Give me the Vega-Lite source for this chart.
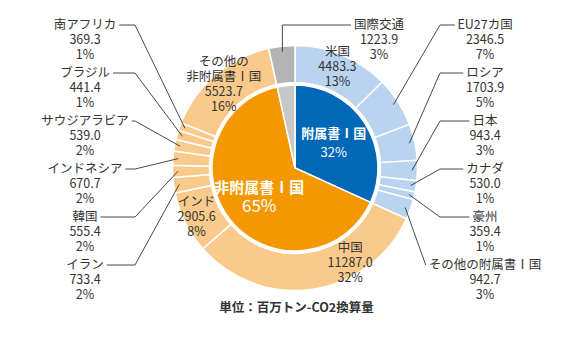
{
  "$schema": "https://vega.github.io/schema/vega-lite/v6.json",
  "width": 573,
  "height": 290,
  "autosize": "pad",
  "padding": 0,
  "background": "white",
  "config": {"view": {"stroke": null}, "font": "Noto Sans CJK JP"},
  "title": {"text": "単位：百万トン-CO2換算量", "orient": "bottom", "fontSize": 12.5, "fontWeight": "bold", "font": "Noto Sans CJK JP", "color": "#333333", "offset": 0, "dx": 10},
  "datasets": {
    "em": [
      {"name": "米国", "group": "附属書Ⅰ国", "value": 4483.3, "order": 1},
      {"name": "EU27カ国", "group": "附属書Ⅰ国", "value": 2346.5, "order": 2},
      {"name": "ロシア", "group": "附属書Ⅰ国", "value": 1703.9, "order": 3},
      {"name": "日本", "group": "附属書Ⅰ国", "value": 943.4, "order": 4},
      {"name": "カナダ", "group": "附属書Ⅰ国", "value": 530.0, "order": 5},
      {"name": "豪州", "group": "附属書Ⅰ国", "value": 359.4, "order": 6},
      {"name": "その他の附属書Ⅰ国", "group": "附属書Ⅰ国", "value": 942.7, "order": 7},
      {"name": "中国", "group": "非附属書Ⅰ国", "value": 11287.0, "order": 8},
      {"name": "インド", "group": "非附属書Ⅰ国", "value": 2905.6, "order": 9},
      {"name": "イラン", "group": "非附属書Ⅰ国", "value": 733.4, "order": 10},
      {"name": "韓国", "group": "非附属書Ⅰ国", "value": 555.4, "order": 11},
      {"name": "インドネシア", "group": "非附属書Ⅰ国", "value": 670.7, "order": 12},
      {"name": "サウジアラビア", "group": "非附属書Ⅰ国", "value": 539.0, "order": 13},
      {"name": "ブラジル", "group": "非附属書Ⅰ国", "value": 441.4, "order": 14},
      {"name": "南アフリカ", "group": "非附属書Ⅰ国", "value": 369.3, "order": 15},
      {"name": "その他の\n非附属書Ⅰ国", "group": "非附属書Ⅰ国", "value": 5523.7, "order": 16},
      {"name": "国際交通", "group": "国際交通", "value": 1223.9, "order": 17}
    ]
  },
  "resolve": {"scale": {"color": "independent"}},
  "layer": [
    {
      "data": {"name": "em"},
      "mark": {"type": "arc", "outerRadius": 122.5, "innerRadius": 85.5, "stroke": "white", "strokeWidth": 1.5},
      "encoding": {
        "theta": {"field": "value", "type": "quantitative", "stack": true},
        "order": {"field": "order", "type": "quantitative"},
        "color": {"field": "group", "type": "nominal", "scale": {"domain": ["附属書Ⅰ国", "非附属書Ⅰ国", "国際交通"], "range": ["#bad3ef", "#f9ca8c", "#b4b4b4"]}, "legend": null},
        "x": {"datum": 0, "type": "quantitative", "scale": {"domain": [-295, 278], "nice": false, "zero": false}, "axis": null},
        "y": {"datum": 0, "type": "quantitative", "scale": {"domain": [-122, 168], "nice": false, "zero": false}, "axis": null}
      }
    },
    {
      "data": {"name": "em"},
      "transform": [
        {"aggregate": [{"op": "sum", "field": "value", "as": "value"}, {"op": "min", "field": "order", "as": "gorder"}], "groupby": ["group"]}
      ],
      "mark": {"type": "arc", "outerRadius": 83, "stroke": "white", "strokeWidth": 1.5},
      "encoding": {
        "theta": {"field": "value", "type": "quantitative", "stack": true},
        "order": {"field": "gorder", "type": "quantitative"},
        "color": {"field": "group", "type": "nominal", "scale": {"domain": ["附属書Ⅰ国", "非附属書Ⅰ国", "国際交通"], "range": ["#0068b7", "#f39800", "#c8c8c8"]}, "legend": null},
        "x": {"datum": 0, "type": "quantitative", "scale": {"domain": [-295, 278], "nice": false, "zero": false}, "axis": null},
        "y": {"datum": 0, "type": "quantitative", "scale": {"domain": [-122, 168], "nice": false, "zero": false}, "axis": null}
      }
    },
    {
      "data": {"name": "em"},
      "transform": [
        {"aggregate": [{"op": "sum", "field": "value", "as": "value"}, {"op": "min", "field": "order", "as": "gorder"}], "groupby": ["group"]},
        {"joinaggregate": [{"op": "sum", "field": "value", "as": "total"}]},
        {"window": [{"op": "sum", "field": "value", "as": "cum"}], "sort": [{"field": "gorder", "order": "ascending"}], "frame": [null, 0]},
        {"calculate": "(datum.cum - datum.value / 2) / datum.total * 2 * PI", "as": "mid"},
        {"filter": "datum.value > 5000"},
        {"calculate": "46 * sin(datum.mid)", "as": "lx"},
        {"calculate": "46 * cos(datum.mid)", "as": "ly"},
        {"calculate": "round(datum.value / datum.total * 100) + '%'", "as": "pt"}
      ],
      "encoding": {
        "x": {"field": "lx", "type": "quantitative", "scale": {"domain": [-295, 278], "nice": false, "zero": false}, "axis": null},
        "y": {"field": "ly", "type": "quantitative", "scale": {"domain": [-122, 168], "nice": false, "zero": false}, "axis": null}
      },
      "layer": [
        {
          "mark": {"type": "text", "fill": "white", "fontWeight": "bold", "align": "center", "baseline": "middle", "dy": -9, "font": "Noto Sans CJK JP"},
          "encoding": {
            "text": {"field": "group", "type": "nominal"},
            "size": {"condition": {"test": "datum.group === '非附属書Ⅰ国'", "value": 15}, "value": 13}
          }
        },
        {
          "mark": {"type": "text", "fill": "white", "align": "center", "baseline": "middle", "dy": 10, "font": "Noto Sans CJK JP"},
          "encoding": {
            "text": {"field": "pt", "type": "nominal"},
            "size": {"condition": {"test": "datum.group === '非附属書Ⅰ国'", "value": 17}, "value": 13}
          }
        }
      ]
    },
    {
      "data": {"name": "em"},
      "transform": [
        {"joinaggregate": [{"op": "sum", "field": "value", "as": "total"}]},
        {"window": [{"op": "sum", "field": "value", "as": "cum"}], "sort": [{"field": "order", "order": "ascending"}], "frame": [null, 0]},
        {"calculate": "(datum.cum - datum.value) / datum.total * 2 * PI", "as": "start"},
        {"calculate": "datum.value / datum.total * 2 * PI", "as": "span"},
        {"calculate": "datum.span > PI / 2 ? datum.start + 0.31 * datum.span : datum.start + datum.span / 2", "as": "la"},
        {"filter": "datum.value >= 2500"},
        {"calculate": "indexof(datum.name, '\\n') >= 0 ? 4 : 3", "as": "nlines"},
        {"calculate": "110 * sin(datum.la)", "as": "lx"},
        {"calculate": "110 * cos(datum.la) + 15 * (datum.nlines - 1) / 2", "as": "ly"},
        {"calculate": "datum.name + '\\n' + format(datum.value, '.1f') + '\\n' + round(datum.value / datum.total * 100) + '%'", "as": "txt"}
      ],
      "mark": {"type": "text", "fontSize": 12.5, "lineHeight": 15, "fill": "#333333", "align": "center", "baseline": "middle", "lineBreak": "\n", "font": "Noto Sans CJK JP"},
      "encoding": {
        "x": {"field": "lx", "type": "quantitative", "scale": {"domain": [-295, 278], "nice": false, "zero": false}, "axis": null},
        "y": {"field": "ly", "type": "quantitative", "scale": {"domain": [-122, 168], "nice": false, "zero": false}, "axis": null},
        "text": {"field": "txt", "type": "nominal"}
      }
    },
    {
      "data": {"name": "em"},
      "transform": [
        {"joinaggregate": [{"op": "sum", "field": "value", "as": "total"}]},
        {"window": [{"op": "sum", "field": "value", "as": "cum"}], "sort": [{"field": "order", "order": "ascending"}], "frame": [null, 0]},
        {"calculate": "(datum.cum - datum.value / 2) / datum.total * 2 * PI", "as": "mid"},
        {"filter": "datum.value < 2500"},
        {"calculate": "datum.group === '国際交通' ? 'top' : (datum.mid < PI ? 'right' : 'left')", "as": "side"},
        {"window": [{"op": "row_number", "as": "rn"}], "groupby": ["side"], "sort": [{"field": "order", "order": "ascending"}]},
        {"calculate": "datum.side === 'left' ? (-97 + 48 * (datum.rn - 1)) : (143 - 48 * (datum.rn - 1))", "as": "ly"},
        {"calculate": "length(replace(datum.name, regexp('[A-Za-z0-9]', 'g'), ''))", "as": "nfull"},
        {"calculate": "(datum.nfull * 12.5 + (length(datum.name) - datum.nfull) * 7.4) / 2", "as": "hw"},
        {"calculate": "datum.side === 'left' ? -210 : (datum.side === 'right' ? 190 : 84)", "as": "cx"},
        {"calculate": "datum.side === 'left' ? datum.cx + datum.hw + 3 : datum.cx - datum.hw - 3", "as": "edge"},
        {"calculate": "117 * sin(datum.mid)", "as": "ax"},
        {"calculate": "117 * cos(datum.mid)", "as": "ay"},
        {"calculate": "datum.side === 'left' ? -160 : (datum.side === 'right' ? min(145, datum.edge) : datum.ax)", "as": "ex"},
        {"calculate": "datum.name + '\\n' + format(datum.value, '.1f') + '\\n' + round(datum.value / datum.total * 100) + '%'", "as": "txt"}
      ],
      "layer": [
        {
          "mark": {"type": "rule", "stroke": "#333333", "strokeWidth": 0.9},
          "encoding": {
            "x": {"field": "ax", "type": "quantitative", "scale": {"domain": [-295, 278], "nice": false, "zero": false}, "axis": null},
            "y": {"field": "ay", "type": "quantitative", "scale": {"domain": [-122, 168], "nice": false, "zero": false}, "axis": null},
            "x2": {"field": "ex"},
            "y2": {"field": "ly"}
          }
        },
        {
          "mark": {"type": "rule", "stroke": "#333333", "strokeWidth": 0.9},
          "encoding": {
            "x": {"field": "ex", "type": "quantitative", "scale": {"domain": [-295, 278], "nice": false, "zero": false}, "axis": null},
            "y": {"field": "ly", "type": "quantitative", "scale": {"domain": [-122, 168], "nice": false, "zero": false}, "axis": null},
            "x2": {"field": "edge"},
            "y2": {"field": "ly"}
          }
        },
        {
          "mark": {"type": "text", "fontSize": 12.5, "lineHeight": 15, "fill": "#333333", "align": "center", "baseline": "middle", "lineBreak": "\n", "font": "Noto Sans CJK JP"},
          "encoding": {
            "x": {"field": "cx", "type": "quantitative", "scale": {"domain": [-295, 278], "nice": false, "zero": false}, "axis": null},
            "y": {"field": "ly", "type": "quantitative", "scale": {"domain": [-122, 168], "nice": false, "zero": false}, "axis": null},
            "text": {"field": "txt", "type": "nominal"}
          }
        }
      ]
    }
  ]
}
